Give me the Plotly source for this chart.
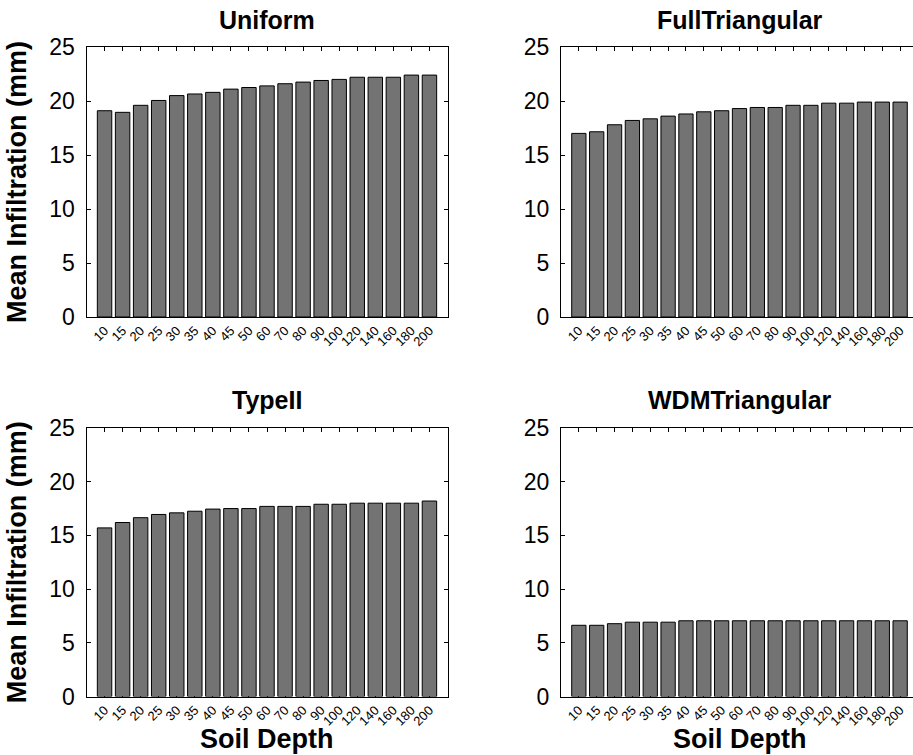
import plotly.graph_objects as go

# Soil depth categories shared by every panel
depths = ["10", "15", "20", "25", "30", "35", "40", "45", "50", "60",
          "70", "80", "90", "100", "120", "140", "160", "180", "200"]

# Mean infiltration (mm) per storm distribution
uniform = [19.1, 18.95, 19.6, 20.05, 20.5, 20.65, 20.8, 21.1, 21.25, 21.4,
           21.6, 21.75, 21.9, 22.0, 22.2, 22.2, 22.2, 22.4, 22.4]
full_triangular = [17.0, 17.15, 17.8, 18.2, 18.35, 18.6, 18.8, 19.0, 19.1, 19.3,
                   19.4, 19.4, 19.6, 19.6, 19.8, 19.8, 19.9, 19.9, 19.9]
type_ii = [15.7, 16.2, 16.65, 16.95, 17.1, 17.25, 17.45, 17.5, 17.5, 17.7,
           17.7, 17.7, 17.9, 17.9, 18.0, 18.0, 18.0, 18.0, 18.2]
wdm_triangular = [6.63, 6.63, 6.78, 6.92, 6.92, 6.92, 7.05, 7.05, 7.05, 7.05,
                  7.05, 7.05, 7.05, 7.05, 7.05, 7.05, 7.05, 7.05, 7.05]

panel_titles = ["Uniform", "FullTriangular", "TypeII", "WDMTriangular"]
y_ticks = [0, 5, 10, 15, 20, 25]

W, H = 913, 755
FONT = "Liberation Sans, Arial, Helvetica, sans-serif"

# Panel boxes in pixels: (left, right, top, bottom)
left_col = (86.5, 447.5)
right_col = (561.0, 918.0)
top_row = (47.0, 317.0)
bot_row = (428.0, 696.5)
panels = [(left_col, top_row), (right_col, top_row),
          (left_col, bot_row), (right_col, bot_row)]
series = [uniform, full_triangular, type_ii, wdm_triangular]

fig = go.Figure()
annotations = []

for i, ((xl, xr), (yt, yb)) in enumerate(panels):
    idx = "" if i == 0 else str(i + 1)
    xa, ya = "x" + idx, "y" + idx
    fig.add_trace(go.Bar(
        x=depths, y=series[i], xaxis=xa, yaxis=ya,
        marker=dict(color="rgb(115,115,115)", line=dict(color="black", width=1)),
        showlegend=False, hoverinfo="x+y",
    ))

    # x-range chosen so a category step keeps its pixel pitch; the right
    # column runs past the page edge, so its range is cut at the domain end
    full_w = xr - xl
    dom_r = min(xr, W)
    x_hi = -1 + 20 * (dom_r - xl) / full_w
    is_right = xr > W

    fig.layout["xaxis" + idx] = dict(
        domain=[xl / W, dom_r / W], anchor=ya, type="category",
        range=[-1, x_hi], showline=True, linecolor="black", linewidth=1,
        mirror="ticks", ticks="inside", ticklen=4, tickcolor="black",
        tickangle=-45, tickfont=dict(family=FONT, size=13, color="black"),
        showgrid=False, zeroline=False, layer="below traces", automargin=False,
    )
    fig.layout["yaxis" + idx] = dict(
        domain=[1 - yb / H, 1 - yt / H], anchor=xa, range=[0, 25],
        tickvals=y_ticks, showline=True, linecolor="black", linewidth=1,
        mirror=False if is_right else "ticks", ticks="inside", ticklen=4,
        tickcolor="black", ticklabelstandoff=6,
        tickfont=dict(family=FONT, size=23, color="black"),
        showgrid=False, zeroline=False, automargin=False,
    )

    cx = (xl + xr) / 2
    annotations.append(dict(
        text=panel_titles[i], x=cx / W, y=1 - (yt - 27.5) / H,
        xref="paper", yref="paper", xanchor="center", yanchor="middle",
        showarrow=False, font=dict(family=FONT, size=25, color="black", weight="bold"),
    ))
    if i >= 2:
        annotations.append(dict(
            text="Soil Depth", x=cx / W, y=1 - 739 / H,
            xref="paper", yref="paper", xanchor="center", yanchor="middle",
            showarrow=False, font=dict(family=FONT, size=27, color="black", weight="bold"),
        ))
    if i % 2 == 0:
        annotations.append(dict(
            text="Mean Infiltration (mm)", x=17 / W, y=1 - (yt + yb) / 2 / H,
            xref="paper", yref="paper", xanchor="center", yanchor="middle",
            textangle=-90, showarrow=False,
            font=dict(family=FONT, size=27, color="black", weight="bold"),
        ))

fig.update_layout(
    width=W, height=H, margin=dict(l=0, r=0, t=0, b=0, pad=0, autoexpand=False),
    paper_bgcolor="white", plot_bgcolor="white",
    bargap=0.2, annotations=annotations, showlegend=False,
    font=dict(family=FONT, color="black"),
)

fig.write_html("out.html")
